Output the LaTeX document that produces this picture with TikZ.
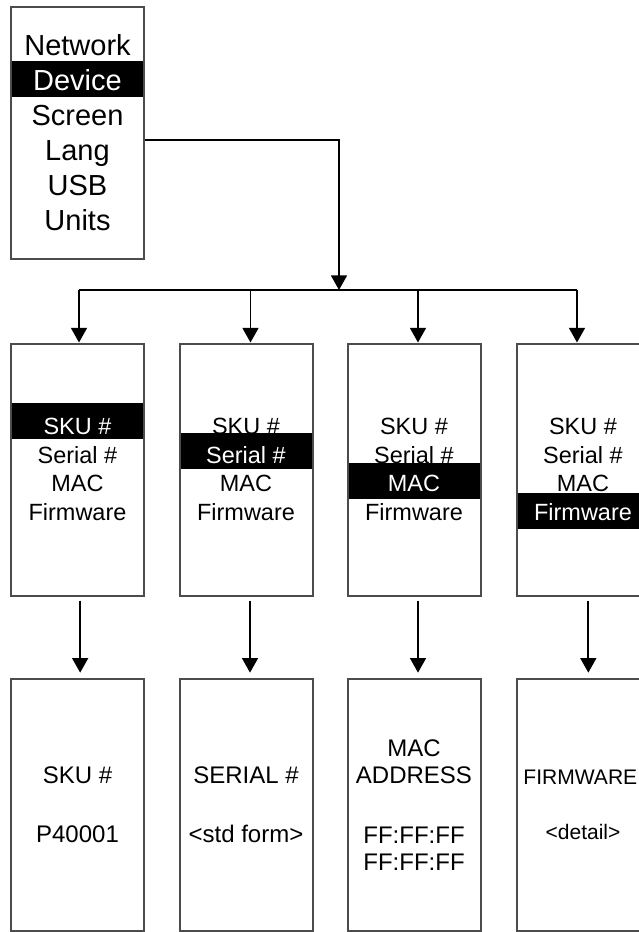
\documentclass[tikz,border=0pt]{standalone}
\usepackage{fontspec}
\setmainfont{Liberation Sans}
\usetikzlibrary{arrows.meta}

\tikzset{every picture/.style={line width=0.75pt}}
\tikzset{
  screen/.style={draw=black!70, line width=1.5pt, inner sep=0pt, minimum width=99.75pt, minimum height=189pt, align=center},
  menufont/.style={font=\fontsize{21.75}{26.25}\selectfont},
  itemfont/.style={font=\fontsize{17.6}{21.4}\selectfont},
  valfont/.style={font=\fontsize{18}{20.25}\selectfont},
  link/.style={draw=black, line width=1.3pt},
  drop/.style={link, -{Triangle[width=12pt,length=11pt]}},
}

\begin{document}
\begin{tikzpicture}[x=0.75pt,y=0.75pt,yscale=-1,xscale=1]
\useasboundingbox (0,0) rectangle (639,932);

% highlight bars
\fill (11,61) rectangle (144,97);
\fill (11,403) rectangle (144,439);
\fill (180,433) rectangle (312,469);
\fill (348,463) rectangle (480,499);
\fill (517,493) rectangle (650,529);

% main menu
\node[screen, menufont] (menu) at (77.5,133) {Network\\\textcolor{white}{Device}\\Screen\\Lang\\USB\\Units};

% device sub-menu
\node[screen, itemfont] (selSku) at (77.5,469.5) {\textcolor{white}{SKU \#}\\Serial \#\\MAC\\Firmware};
\node[screen, itemfont] (selSerial) at (246,469.5) {SKU \#\\\textcolor{white}{Serial \#}\\MAC\\Firmware};
\node[screen, itemfont] (selMac) at (414,469.5) {SKU \#\\Serial \#\\\textcolor{white}{MAC}\\Firmware};
\node[screen, itemfont] (selFw) at (583,469.5) {SKU \#\\Serial \#\\MAC\\\textcolor{white}{Firmware}};

% detail screens
\node[screen, valfont] (showSku) at (77.5,805) {SKU \#\\[24pt]P40001};
\node[screen, valfont] (showSerial) at (246,805) {SERIAL \#\\[24pt]<std form>};
\node[screen, valfont] (showMac) at (414,805) {MAC\\ADDRESS\\[24.75pt]FF:FF:FF\\FF:FF:FF};
\node[screen, valfont] (showFw) at (583,805) {{\fontsize{15.8}{20}\selectfont FIRMWARE}\hspace*{4pt}\\[21pt]{\fontsize{15.75}{19}\selectfont <detail>}};

% connectors
\coordinate (hub) at (339,290);
\coordinate (busA) at (79,290);
\coordinate (busB) at (250.5,290);
\coordinate (busC) at (418,290);
\coordinate (busD) at (577,290);
\draw[drop] ([yshift=5.25pt]menu.east) -| (hub);
\draw[link] (busA) -- (busD);
\draw[drop] (busA) -- (busA |- selSku.north);
\draw[drop] (busB) -- (busB |- selSerial.north);
\draw[drop] (busC) -- (busC |- selMac.north);
\draw[drop] (busD) -- (busD |- selFw.north);
\draw[drop, shorten <=3pt, shorten >=4pt] ([xshift=2pt]selSku.south) -- ([xshift=2pt]showSku.north);
\draw[drop, shorten <=3pt, shorten >=4pt] ([xshift=3pt]selSerial.south) -- ([xshift=3pt]showSerial.north);
\draw[drop, shorten <=3pt, shorten >=4pt] ([xshift=3pt]selMac.south) -- ([xshift=3pt]showMac.north);
\draw[drop, shorten <=3pt, shorten >=4pt] ([xshift=4pt]selFw.south) -- ([xshift=4pt]showFw.north);

\end{tikzpicture}
\end{document}
